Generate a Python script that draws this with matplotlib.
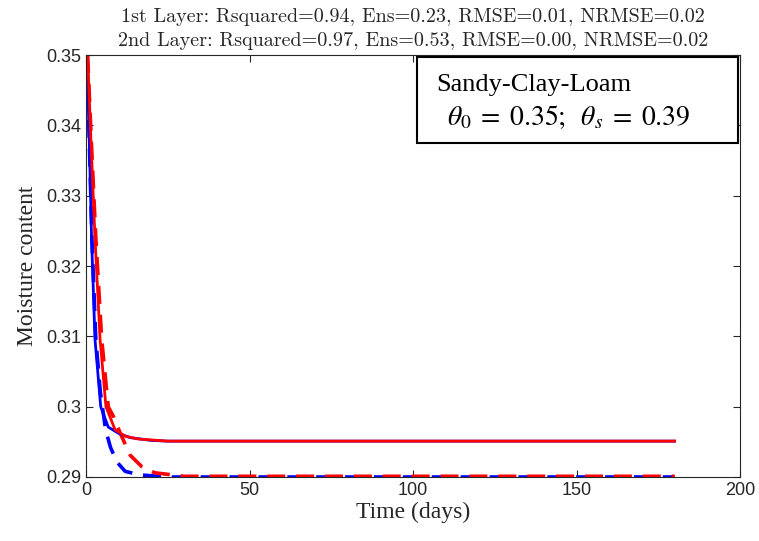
import matplotlib
matplotlib.use("Agg")
import matplotlib.pyplot as plt

# values
dias_azul = [0.3, 1.0, 1.7, 2.75, 4.5, 6.8, 10, 13.5, 20, 25, 180]
umid_azul = [0.349, 0.338, 0.324, 0.3096, 0.300, 0.2971, 0.2962, 0.2956, 0.2952, 0.2951, 0.2951]

dias_verm = [0.5, 1.5, 2.75, 4.3, 6.1, 8.9, 12, 16, 22, 25, 180]
umid_verm = [0.35, 0.338, 0.324, 0.3096, 0.300, 0.2967, 0.2958, 0.2954, 0.2952, 0.2951, 0.2951]

dias_azul_tr = [0.3, 1.0, 1.8, 3.0, 4.4, 6.0, 7.5, 9.5, 12, 16.5, 25, 180]
umid_azul_tr = [0.349, 0.338, 0.324, 0.3096, 0.302, 0.2967, 0.2942, 0.2921, 0.2908, 0.2903, 0.2900, 0.2900]

dias_verm_tr = [0.5, 1.6, 3.0, 4.8, 6.8, 8.5, 10.5, 13.5, 17, 21, 30, 180]
umid_verm_tr = [0.35, 0.338, 0.324, 0.3096, 0.300, 0.2985, 0.2962, 0.2931, 0.2915, 0.2906, 0.2901, 0.2901]

xticks = [0, 50, 100, 150, 200]
yticks = [0.29, 0.30, 0.31, 0.32, 0.33, 0.34, 0.35]
yrotulos = ["0.29", "0.3", "0.31", "0.32", "0.33", "0.34", "0.35"]

titulo1 = "1st Layer: Rsquared=0.94, Ens=0.23, RMSE=0.01, NRMSE=0.02"
titulo2 = "2nd Layer: Rsquared=0.97, Ens=0.53, RMSE=0.00, NRMSE=0.02"

fig = plt.figure(figsize=(7.59, 5.41), dpi=100)
ax = fig.add_axes([0.1133, 0.1183, 0.8617, 0.780])

ax.plot(dias_azul_tr, umid_azul_tr, color="blue", lw=2.6, ls=(0, (5, 3)))
ax.plot(dias_verm_tr, umid_verm_tr, color="red", lw=2.6, ls=(0, (5, 3)))
ax.plot(dias_azul, umid_azul, color="blue", lw=2.0)
ax.plot(dias_verm, umid_verm, color="red", lw=2.0)

ax.set_xlim(0, 200)
ax.set_ylim(0.29, 0.35)
ax.set_xticks(xticks)
ax.set_yticks(yticks)
ax.set_yticklabels(yrotulos)
ax.tick_params(direction="in", top=True, right=True, length=5, width=0.8,
               colors="#262626", labelsize=13)
for lab in ax.get_xticklabels() + ax.get_yticklabels():
    lab.set_family("Liberation Sans")
for s in ax.spines.values():
    s.set_color("#262626")
    s.set_linewidth(0.8)

ax.set_xlabel("Time (days)", family="Liberation Serif", fontsize=17, color="#262626",
              labelpad=2)
ax.set_ylabel("Moisture content", family="Liberation Serif", fontsize=17, color="#262626",
              labelpad=6)

fig.text(0.5 * (0.1133 + 0.975), 0.968, titulo1, family="cmr10", fontsize=14.5,
         ha="center", va="center", color="#262626")
fig.text(0.5 * (0.1133 + 0.975), 0.925, titulo2, family="cmr10", fontsize=14.5,
         ha="center", va="center", color="#262626")

# caixa com o tipo de solo
caixa = plt.Rectangle((0.5495, 0.7357), 0.4229, 0.159, transform=fig.transFigure,
                      facecolor="white", edgecolor="black", lw=1.5, zorder=5)
fig.patches.append(caixa)
fig.text(0.575, 0.843, "Sandy-Clay-Loam", family="Liberation Serif", fontsize=19,
         va="center", zorder=6)
fig.text(0.589, 0.783, r"$\theta_0\;=\;0.35;\;\;\theta_s\;=\;0.39$", math_fontfamily="stix",
         fontsize=20, va="center", zorder=6)

fig.savefig("out.png", dpi=100)
